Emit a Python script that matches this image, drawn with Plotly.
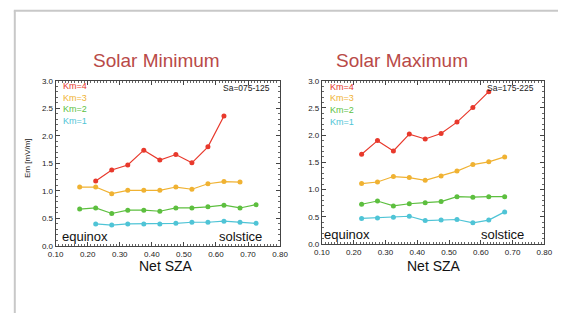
import plotly.graph_objects as go

# ---- data ----
min_km4_x = [0.225, 0.275, 0.325, 0.375, 0.425, 0.475, 0.525, 0.575, 0.625]
min_km4_y = [1.18, 1.38, 1.47, 1.74, 1.56, 1.66, 1.51, 1.80, 2.36]
min_km3_x = [0.175, 0.225, 0.275, 0.325, 0.375, 0.425, 0.475, 0.525, 0.575, 0.625, 0.675]
min_km3_y = [1.07, 1.07, 0.95, 1.01, 1.01, 1.01, 1.07, 1.03, 1.13, 1.17, 1.16]
min_km2_x = [0.175, 0.225, 0.275, 0.325, 0.375, 0.425, 0.475, 0.525, 0.575, 0.625, 0.675, 0.725]
min_km2_y = [0.67, 0.69, 0.59, 0.65, 0.65, 0.63, 0.69, 0.69, 0.71, 0.74, 0.69, 0.75]
min_km1_x = [0.225, 0.275, 0.325, 0.375, 0.425, 0.475, 0.525, 0.575, 0.625, 0.675, 0.725]
min_km1_y = [0.40, 0.38, 0.40, 0.40, 0.40, 0.41, 0.43, 0.43, 0.45, 0.43, 0.41]

max_x = [0.225, 0.275, 0.325, 0.375, 0.425, 0.475, 0.525, 0.575, 0.625, 0.675]
max_km4_y = [1.65, 1.90, 1.71, 2.02, 1.93, 2.03, 2.24, 2.51, 2.80]
max_km3_y = [1.11, 1.14, 1.24, 1.22, 1.17, 1.25, 1.34, 1.46, 1.51, 1.60]
max_km2_y = [0.73, 0.79, 0.70, 0.74, 0.76, 0.78, 0.87, 0.86, 0.87, 0.87]
max_km1_y = [0.47, 0.48, 0.49, 0.51, 0.43, 0.44, 0.45, 0.39, 0.44, 0.59]

series_names = ["Km=4", "Km=3", "Km=2", "Km=1"]
series_colors = ["#e8392c", "#f0b232", "#5dbf3f", "#4fc4d6"]
x_ticks = [0.10, 0.20, 0.30, 0.40, 0.50, 0.60, 0.70, 0.80]
y_ticks = [0.0, 0.5, 1.0, 1.5, 2.0, 2.5, 3.0]
panel_titles = ["Solar Minimum", "Solar Maximum"]
sa_labels = ["Sa=075-125", "Sa=175-225"]

FONT = "Liberation Sans, Arial, Helvetica, sans-serif"

fig = go.Figure()

left = [(min_km4_x, min_km4_y), (min_km3_x, min_km3_y), (min_km2_x, min_km2_y), (min_km1_x, min_km1_y)]
right = [(max_x[:len(max_km4_y)], max_km4_y), (max_x, max_km3_y), (max_x, max_km2_y), (max_x, max_km1_y)]

for (xs, ys), c in zip(left, series_colors):
    fig.add_trace(go.Scatter(x=xs, y=ys, mode="lines+markers", xaxis="x", yaxis="y",
                             line=dict(color=c, width=1.2), marker=dict(color=c, size=5),
                             showlegend=False))
for (xs, ys), c in zip(right, series_colors):
    fig.add_trace(go.Scatter(x=xs, y=ys, mode="lines+markers", xaxis="x2", yaxis="y2",
                             line=dict(color=c, width=1.2), marker=dict(color=c, size=5),
                             showlegend=False))

def xax(domain, anchor):
    return dict(domain=domain, anchor=anchor, range=[0.10, 0.80], tickvals=x_ticks,
                ticktext=[f"{v:.2f}" for v in x_ticks], ticks="inside", ticklen=4,
                tickcolor="#444", showline=True, linecolor="#444", linewidth=1,
                mirror="allticks", showgrid=False, zeroline=False,
                tickfont=dict(family=FONT, size=8, color="#222"),
                minor=dict(dtick=0.01, tick0=0.1, ticks="inside", ticklen=2, tickcolor="#666"))

def yax(domain, anchor):
    return dict(domain=domain, anchor=anchor, range=[0.0, 3.0], tickvals=y_ticks,
                ticktext=[f"{v:.1f}" for v in y_ticks], ticks="inside", ticklen=4,
                tickcolor="#444", showline=True, linecolor="#444", linewidth=1,
                mirror="allticks", showgrid=False, zeroline=False,
                tickfont=dict(family=FONT, size=8, color="#222"),
                minor=dict(dtick=0.1, tick0=0, ticks="inside", ticklen=2, tickcolor="#666"))

fig.update_layout(
    width=566, height=318, margin=dict(l=0, r=0, t=0, b=0),
    paper_bgcolor="white", plot_bgcolor="white",
    xaxis=xax([49/566, 280/566], "y"),
    yaxis=yax([(318-249)/318, (318-79)/318], "x"),
    xaxis2=xax([323/566, 552/566], "y2"),
    yaxis2=yax([(318-247)/318, (318-79)/318], "x2"),
)

ann = []
for t, xc in zip(panel_titles, [153, 405]):
    ann.append(dict(text=t, x=xc/566, y=(318-58)/318, xref="paper", yref="paper",
                    showarrow=False, xanchor="center", yanchor="middle",
                    font=dict(family=FONT, size=19, color="#b94a48")))
for xc in [163, 438]:
    ann.append(dict(text="Net SZA", x=xc/566, y=(318-270)/318, xref="paper", yref="paper",
                    showarrow=False, xanchor="center", yanchor="middle",
                    font=dict(family=FONT, size=14, color="#111")))
ann.append(dict(text="Em [mV/m]", x=20/566, y=(318-158)/318, xref="paper", yref="paper",
                showarrow=False, textangle=-90, xanchor="center", yanchor="middle",
                font=dict(family=FONT, size=8, color="#222")))
for xl, xr, ysc in [(53, 263, 239), (323, 533, 237)]:
    ann.append(dict(text="equinox", x=xl/566, y=(318-ysc)/318, xref="paper", yref="paper",
                    showarrow=False, xanchor="left", yanchor="middle",
                    font=dict(family=FONT, size=13, color="#111")))
    ann.append(dict(text="solstice", x=xr/566, y=(318-ysc)/318, xref="paper", yref="paper",
                    showarrow=False, xanchor="right", yanchor="middle",
                    font=dict(family=FONT, size=13, color="#111")))
for x0, ys0 in [(55, 84.5), (329, 85)]:
    for i, (n, c) in enumerate(zip(series_names, series_colors)):
        ann.append(dict(text=n, x=x0/566, y=(318-(ys0 + 12*i))/318, xref="paper", yref="paper",
                        showarrow=False, xanchor="left", yanchor="middle",
                        font=dict(family=FONT, size=9, color=c)))
for t, xr in zip(sa_labels, [272, 543]):
    ann.append(dict(text=t, x=xr/566, y=(318-86)/318, xref="paper", yref="paper",
                    showarrow=False, xanchor="right", yanchor="middle",
                    font=dict(family=FONT, size=8.5, color="#222")))
fig.update_layout(annotations=ann)

fig.update_layout(shapes=[
    dict(type="line", xref="paper", yref="paper", x0=6/566, x1=1, y0=(318-7)/318, y1=(318-7)/318,
         line=dict(color="#c8c8c8", width=2)),
    dict(type="line", xref="paper", yref="paper", x0=7/566, x1=7/566, y0=0, y1=(318-7)/318,
         line=dict(color="#c8c8c8", width=2)),
])

fig.write_html("out.html", config={"displayModeBar": False},
               post_script="document.body.style.margin='0';document.body.style.padding='0';"
                           "document.documentElement.style.overflow='hidden';")
